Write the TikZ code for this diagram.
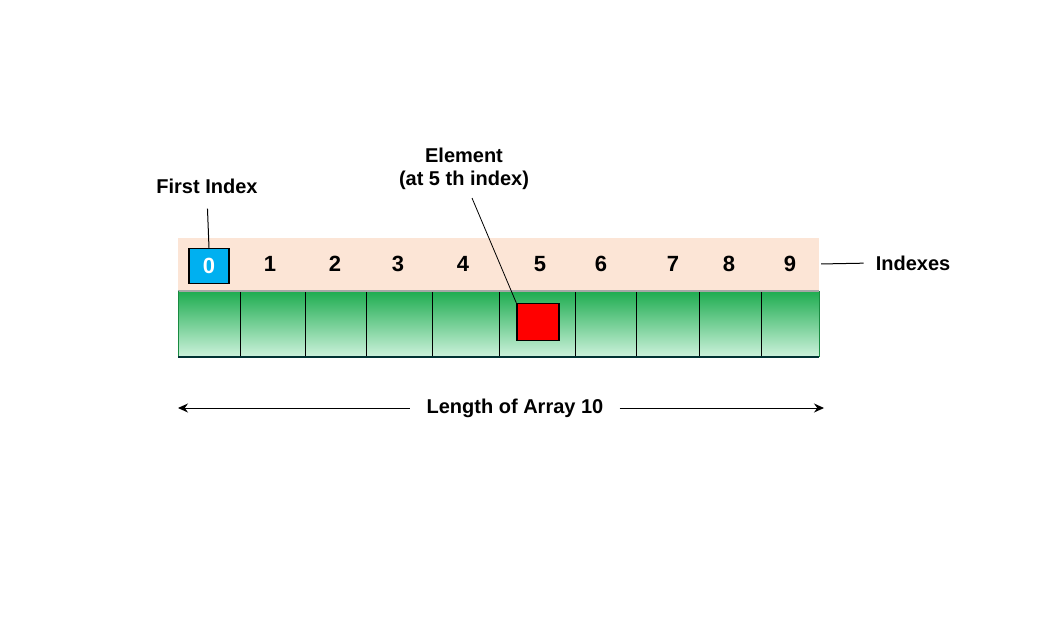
\documentclass[tikz,border=0pt]{standalone}
\usepackage{fontspec}
\setmainfont{Liberation Sans}
\usetikzlibrary{arrows.meta}
\definecolor{peach}{RGB}{252,229,214}
\definecolor{arrgreen}{RGB}{30,172,80}
\definecolor{arrlight}{RGB}{205,242,220}
\definecolor{idxblue}{RGB}{0,176,240}
\begin{document}
\begin{tikzpicture}[x=1pt, y=-1pt, >={Stealth[width=9pt,length=10pt]}, lbl/.style={font=\bfseries\fontsize{20}{23}\selectfont, inner sep=3pt}, idx/.style={lbl, font=\bfseries\fontsize{22}{24}\selectfont}, wire/.style={line width=1pt}]
\useasboundingbox[fill=white] (0,0) rectangle (1060,619);
% index band and array body
\draw (498.5,264)node[fill=peach, minimum width=641pt, minimum height=52pt, inner sep=0pt](band){};
\shade[top color=arrgreen, bottom color=arrlight] (178,291) rectangle (819,357);
\draw[line width=1.5pt, gray!70] (178,291) -- (819,291);
\draw[line width=1pt, arrgreen!80!black] (178,291) -- (178,357) (819,291) -- (819,357);
\draw[line width=2pt, black!60!teal] (178,357) -- (819,357);
\foreach \x in {240,305,366,432,499,575,636,699,761}
  \draw[line width=1pt] (\x,292) -- (\x,356);
% index numbers
\draw (209,266)node[draw, line width=1.5pt, fill=idxblue, text=white, minimum width=40pt, minimum height=35pt, idx](i0){0};
\foreach \n/\x in {1/270,2/335,3/398,4/463,5/540,6/601,7/673,8/729,9/790}
  \draw (\x,264)node[idx](i\n){\n};
\draw (538,322)node[draw, line width=1.5pt, fill=red, minimum width=42pt, minimum height=37pt](elem){};
% labels
\draw (207,186)node[lbl, inner sep=3pt](first){First Index};
\draw (464,169)node[lbl, align=center](elemtxt){Element\\(at 5 th index)};
\draw (913,263)node[lbl](indexes){Indexes};
\draw (515,408)node[lbl, inner sep=16pt](len){Length of Array 10};
\coordinate (elemtip) at (472,198);
\coordinate (lenL) at (178,408);
\coordinate (lenR) at (824,408);
\draw[wire, shorten >=12pt] (i0.north) -- (first.south);
\draw[line width=0.8pt] (elemtip) -- (elem.north west);
\draw[wire, shorten <=2pt, shorten >=9pt] (band.east) -- (indexes.west);
\draw[wire, <-] (lenL) -- (len.west);
\draw[wire, ->] (len.east) -- (lenR);
\end{tikzpicture}
\end{document}
